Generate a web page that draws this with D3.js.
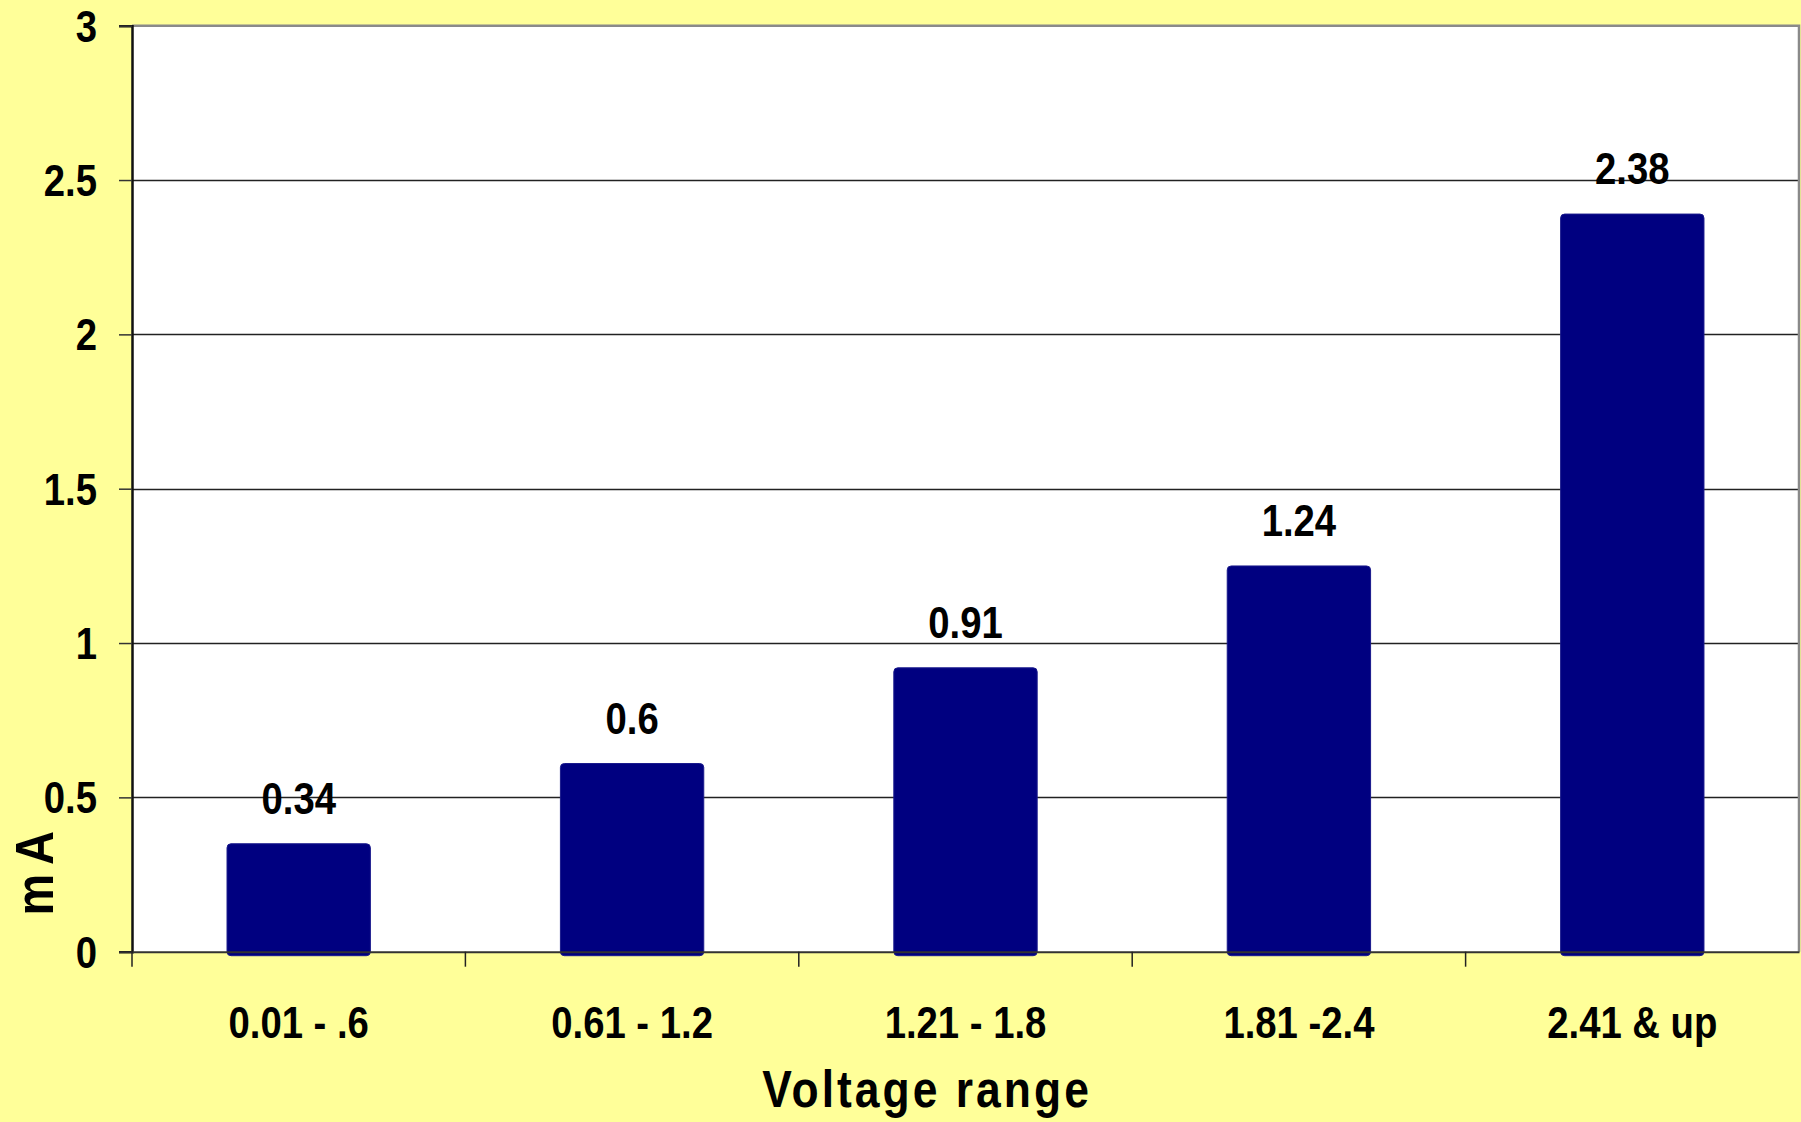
<!DOCTYPE html>
<html>
<head>
<meta charset="utf-8">
<script src="https://cdn.jsdelivr.net/npm/d3@7"></script>
<style>
  html, body { margin: 0; padding: 0; background: #FFFF99; }
  svg { display: block; }
  text { font-family: "Liberation Sans Narrow", "Arial Narrow", "Liberation Sans", sans-serif; font-weight: bold; fill: #000; }
</style>
</head>
<body>
<svg id="chart" width="1801" height="1122"></svg>
<script>
// Current drawn (mA) for each voltage range
const categories = ["0.01 - .6", "0.61 - 1.2", "1.21 - 1.8", "1.81 -2.4", "2.41 & up"];
const values = [0.34, 0.6, 0.91, 1.24, 2.38];
const valueLabels = ["0.34", "0.6", "0.91", "1.24", "2.38"];
const yTicks = [0, 0.5, 1, 1.5, 2, 2.5, 3];
const yTickLabels = ["0", "0.5", "1", "1.5", "2", "2.5", "3"];
const xTitle = "Voltage range";
const yTitle = "mA";

const W = 1801, H = 1122;
const margin = { left: 132, right: 2, top: 25.7, bottom: 170.3 };
const narrow = 0.87; // horizontal squeeze for a condensed look
const svg = d3.select("#chart");

const x = d3.scaleBand()
  .domain(categories)
  .range([margin.left, W - margin.right])
  .paddingInner(0.57)
  .paddingOuter(0.285);

const xb = d3.scaleBand().domain(categories).range([margin.left, W - margin.right]);

const y = d3.scaleLinear()
  .domain([0, 3])
  .range([H - margin.bottom, margin.top]);

// plot area background
svg.append("rect")
  .attr("x", margin.left).attr("y", margin.top)
  .attr("width", W - margin.right - margin.left)
  .attr("height", y(0) - margin.top)
  .attr("fill", "#fff");

// horizontal gridlines
svg.append("g")
  .selectAll("line")
  .data(yTicks.filter(d => d > 0 && d < 3))
  .join("line")
  .attr("x1", margin.left).attr("x2", W - margin.right)
  .attr("y1", d => Math.round(y(d)) + 0.5).attr("y2", d => Math.round(y(d)) + 0.5)
  .attr("stroke", "#222").attr("stroke-width", 1.3);

// plot border (top/right)
svg.append("path")
  .attr("d", `M${margin.left},${margin.top}H${W - margin.right}V${y(0)}`)
  .attr("fill", "none").attr("stroke", "#8a8a8a").attr("stroke-width", 2.5);

// bars
svg.append("g")
  .selectAll("rect")
  .data(values)
  .join("rect")
  .attr("x", (d, i) => x(categories[i]))
  .attr("width", x.bandwidth())
  .attr("y", d => y(d) - 3)
  .attr("height", d => y(0) - y(d) + 7)
  .attr("rx", 4)
  .attr("fill", "#000080")
  .attr("stroke", "#1a1a8c").attr("stroke-width", 1);

// condensed text helper
function label(g, px, py, size, anchor, txt, extra) {
  return g.append("text")
    .attr("transform", `translate(${px},${py}) ${extra || ""} scale(${narrow},1)`)
    .attr("text-anchor", anchor)
    .style("font-size", size + "px")
    .text(txt);
}

// value labels
const gv = svg.append("g");
values.forEach((v, i) => {
  label(gv, x(categories[i]) + x.bandwidth() / 2, y(v) - 33, 44, "middle", valueLabels[i]);
});

// y axis
const yAxis = d3.axisLeft(y)
  .tickValues(yTicks)
  .tickFormat("")
  .tickSize(13);
const gy = svg.append("g").attr("transform", `translate(${margin.left},0)`).call(yAxis);
gy.select(".domain").attr("stroke", "#111").attr("stroke-width", 2.5);
gy.selectAll(".tick line").attr("stroke", "#333").attr("stroke-width", 1.5);
const gyl = svg.append("g");
yTicks.forEach((t, i) => {
  label(gyl, 97, y(t) + 16, 44, "end", yTickLabels[i]);
});

// x axis with ticks at category boundaries
const xAxis = d3.axisBottom(xb).tickSize(0).tickPadding(0).tickFormat("");
const gx = svg.append("g").attr("transform", `translate(0,${y(0)})`).call(xAxis);
gx.select(".domain").attr("stroke", "#333").attr("stroke-width", 2);
gx.append("g")
  .selectAll("line")
  .data(categories.map(c => xb(c)))
  .join("line")
  .attr("x1", d => d).attr("x2", d => d)
  .attr("y1", 0).attr("y2", 15)
  .attr("stroke", "#222").attr("stroke-width", 1.5);

const gxl = svg.append("g");
categories.forEach(c => {
  label(gxl, x(c) + x.bandwidth() / 2, y(0) + 86, 44, "middle", c);
});

// axis titles
label(svg, 927, 1107, 51, "middle", xTitle).style("letter-spacing", "3.5px");
label(svg, 53, 869, 54, "middle", yTitle, "rotate(-90)").style("letter-spacing", "10px");
</script>
</body>
</html>
